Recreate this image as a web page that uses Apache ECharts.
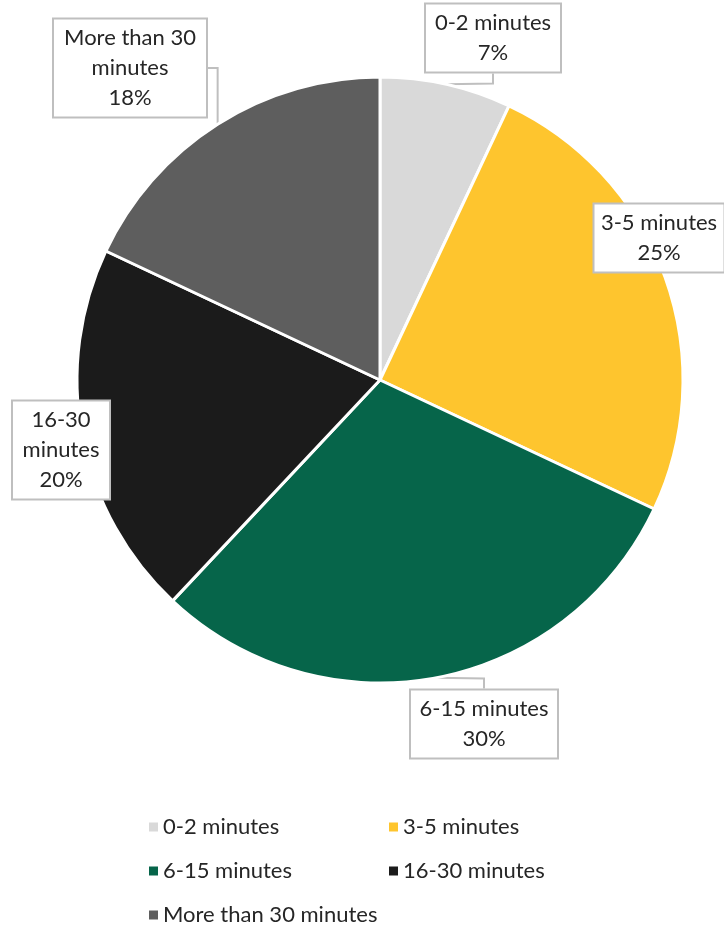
<!DOCTYPE html>
<html>
<head>
<meta charset="utf-8">
<script src="https://cdn.jsdelivr.net/npm/echarts@6/dist/echarts.min.js"></script>
<style>html,body{margin:0;padding:0;background:#fff;}#c{width:724px;height:929px;}</style>
</head>
<body>
<div id="c"></div>
<script>
const categories = ['0-2 minutes', '3-5 minutes', '6-15 minutes', '16-30 minutes', 'More than 30 minutes'];
const values = [7, 25, 30, 20, 18];
const labelTexts = ['0-2 minutes', '3-5 minutes', '6-15 minutes', '16-30\nminutes', 'More than 30\nminutes'];
const colors = ['#d9d9d9', '#fec52e', '#06654a', '#1b1b1b', '#5e5e5e'];

// label box layout (centers and inner widths)
const labelPos = [[493, 38], [659, 238], [484, 724], [61, 450], [130, 68]];
const labelBoxWidths = [118, 113, 130, 80, 136];

const chart = echarts.init(document.getElementById('c'));
const FONT = 'Lato';
const legendText = { fontSize: 22, color: '#262626', fontFamily: FONT, lineHeight: 24 };
chart.setOption({
  animation: false,
  color: colors,
  textStyle: { fontFamily: FONT },
  legend: [
    {
      orient: 'vertical', left: 144, top: 810, height: 200, itemWidth: 9, itemHeight: 9, itemGap: 20,
      icon: 'rect', itemStyle: { borderWidth: 0 },
      data: [categories[0], categories[2], categories[4]],
      textStyle: legendText
    },
    {
      orient: 'vertical', left: 384, top: 810, height: 200, itemWidth: 9, itemHeight: 9, itemGap: 20,
      icon: 'rect', itemStyle: { borderWidth: 0 },
      data: [categories[1], categories[3]],
      textStyle: legendText
    }
  ],
  series: [{
    type: 'pie',
    center: [380, 380],
    radius: 303,
    startAngle: 90,
    clockwise: true,
    data: categories.map((c, i) => ({ name: c, value: values[i], label: { width: labelBoxWidths[i] } })),
    itemStyle: { borderColor: '#fff', borderWidth: 3 },
    label: {
      show: true,
      position: 'outside',
      overflow: 'none',
      formatter: p => labelTexts[p.dataIndex] + '\n' + p.value + '%',
      fontSize: 22,
      lineHeight: 30,
      color: '#262626',
      fontFamily: FONT,
      align: 'center',
      backgroundColor: '#fff',
      borderColor: '#bfbfbf',
      borderWidth: 2,
      padding: [6, 8, 1, 8]
    },
    labelLine: { show: true, lineStyle: { color: '#bfbfbf', width: 2 }, length: 10, length2: 10 },
    labelLayout: p => ({
      x: labelPos[p.dataIndex][0],
      y: labelPos[p.dataIndex][1],
      align: 'center',
      verticalAlign: 'middle'
    })
  }]
});
</script>
</body>
</html>
